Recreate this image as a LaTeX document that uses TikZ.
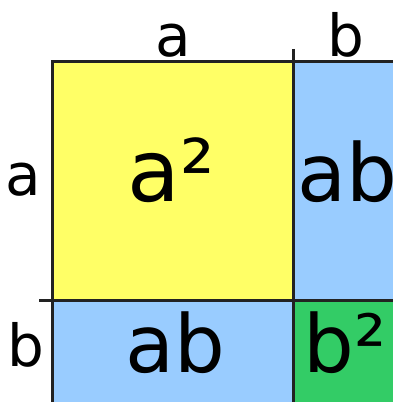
\documentclass[tikz,border=0pt]{standalone}
\usepackage{fontspec}
\setmainfont{DejaVu Sans}
\definecolor{sqyellow}{HTML}{FFFF66}
\definecolor{sqblue}{HTML}{99CCFF}
\definecolor{sqgreen}{HTML}{33CC66}
\definecolor{edge}{HTML}{222222}
\tikzset{
  edgeline/.style={draw=edge,line width=3pt},
  lbl/.style={inner sep=0pt,anchor=base,font=\fontsize{58}{60}\selectfont},
  big/.style={inner sep=0pt,font=\fontsize{80}{82}\selectfont},
}
\begin{document}
\begin{tikzpicture}[x=1pt,y=1pt]
\useasboundingbox (0,0) rectangle (393,402);
\clip (0,0) rectangle (393,402);
\fill[sqyellow] (52.5,340.5) rectangle (293,101);
\fill[sqblue] (293,340.5) rectangle (430,101);
\fill[sqblue] (52.5,101) rectangle (293,-30);
\fill[sqgreen] (293,101) rectangle (430,-30);
\draw[edgeline] (52.5,-30) -- (52.5,340.5) -- (430,340.5);
\draw[edgeline] (293,353) -- (293,-30);
\draw[edgeline] (39,101) -- (430,101);
\node[lbl] (ta) at (173,345) {a};
\node[lbl] (tb) at (346,345) {b};
\node[lbl] (la) at (23,206) {a};
\node[lbl] (lb) at (26,35) {b};
\node[big,anchor=base,font=\fontsize{86}{88}\selectfont] (asq) at (171,200) {a²};
\node[big,anchor=base west] (abr) at (297,200) {ab};
\node[big,anchor=base] (abb) at (175,29) {ab};
\node[big,anchor=base west] (bsq) at (303,29) {b²};
\end{tikzpicture}
\end{document}
